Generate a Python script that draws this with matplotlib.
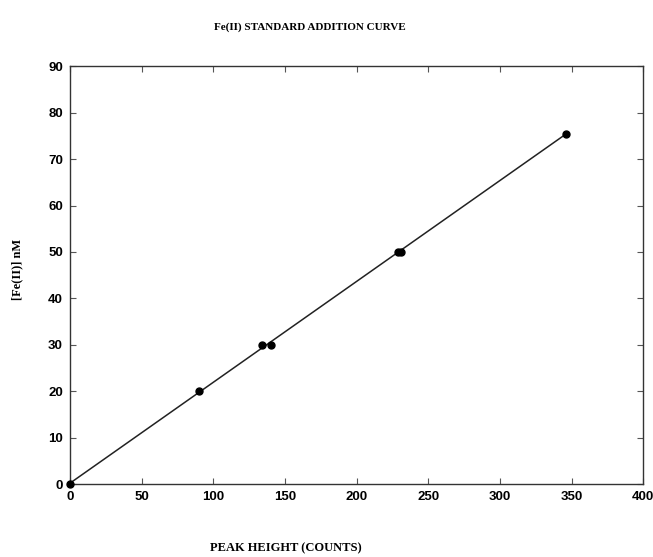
import numpy as np
import matplotlib
matplotlib.use('Agg')
import matplotlib.pyplot as plt

# standard addition data
peak_height = [0, 90, 134, 140, 229, 231, 346]
fe_conc = [0, 20, 30, 30, 50, 50, 75.5]

xticks = [0, 50, 100, 150, 200, 250, 300, 350, 400]
yticks = [0, 10, 20, 30, 40, 50, 60, 70, 80, 90]

fig = plt.figure(figsize=(6.53, 5.57), dpi=100)
ax = fig.add_axes([0.107, 0.131, 0.878, 0.750])

# least squares line through the points
slope, icept = np.polyfit(peak_height, fe_conc, 1)
xfit = np.array([0, max(peak_height)])
ax.plot(xfit, slope * xfit + icept, color='#222222', lw=1.1)
ax.plot(peak_height, fe_conc, 'o', color='black', ms=5, clip_on=False, zorder=3)

ax.set_xlim(0, 400)
ax.set_ylim(0, 90)
ax.set_xticks(xticks)
ax.set_yticks(yticks)
ax.tick_params(direction='in', top=True, right=True, length=4, width=0.8,
               color='#555555', labelsize=9.5, pad=5)
for lab in ax.get_xticklabels() + ax.get_yticklabels():
    lab.set_family('Liberation Sans')
    lab.set_fontweight('bold')
for sp in ax.spines.values():
    sp.set_color('#333333')
    sp.set_linewidth(1.0)

fig.text(0.475, 0.952, 'Fe(II) STANDARD ADDITION CURVE', ha='center', va='center',
         family='Liberation Serif', fontweight='bold', fontsize=8)
fig.text(0.437, 0.016, 'PEAK HEIGHT (COUNTS)', ha='center', va='center',
         family='Liberation Serif', fontweight='bold', fontsize=9)
fig.text(0.027, 0.517, '[Fe(II)] nM', ha='center', va='center', rotation=90,
         family='Liberation Serif', fontweight='bold', fontsize=9)

plt.savefig('out.png', dpi=100)
